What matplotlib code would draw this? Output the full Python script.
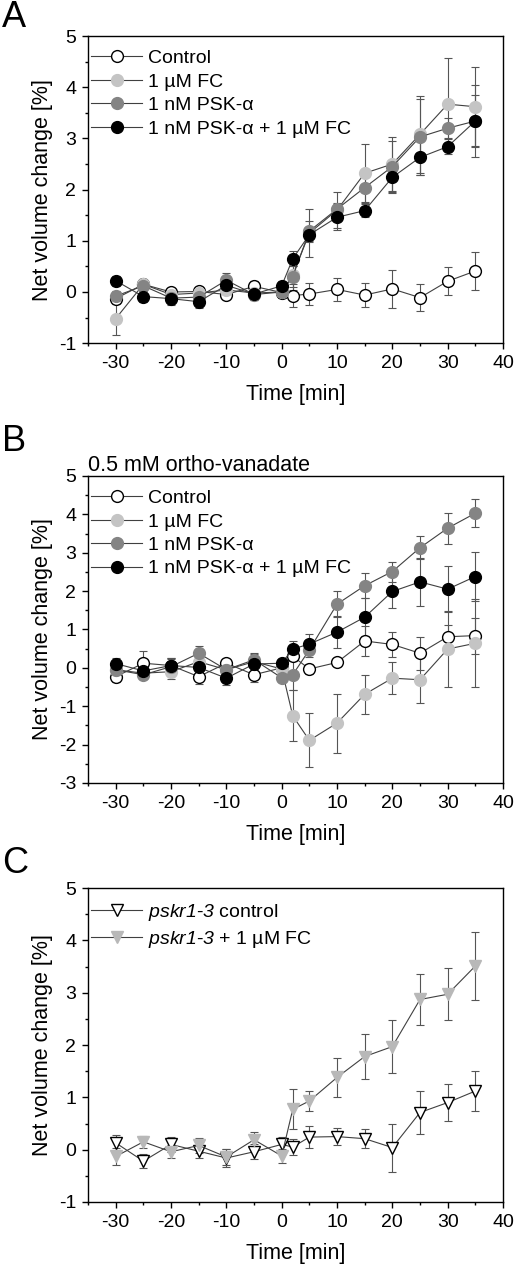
import numpy as np
import matplotlib
matplotlib.use("Agg")
import matplotlib.pyplot as plt
from matplotlib.ticker import MultipleLocator

plt.rcParams['font.family'] = ['Liberation Sans', 'DejaVu Sans']
plt.rcParams['axes.unicode_minus'] = False
plt.rcParams['mathtext.fontset'] = 'custom'
plt.rcParams['mathtext.it'] = 'Liberation Sans:italic'
plt.rcParams['mathtext.rm'] = 'Liberation Sans:italic'

# time points (min)
time = [-30, -25, -20, -15, -10, -5, 0, 2, 5, 10, 15, 20, 25, 30, 35]

# --- panel A ---
a_ctrl = [-0.13, 0.15, 0.00, 0.01, -0.05, 0.11, -0.01, -0.07, -0.04, 0.05, -0.06, 0.06, -0.11, 0.21, 0.41]
a_ctrl_err = [0.10, 0.08, 0.08, 0.08, 0.06, 0.10, 0.10, 0.22, 0.21, 0.22, 0.23, 0.37, 0.27, 0.27, 0.37]
a_fc = [-0.52, 0.15, -0.05, -0.02, 0.04, -0.02, 0.00, 0.33, 1.15, 1.60, 2.32, 2.50, 3.08, 3.67, 3.62]
a_fc_err = [0.33, 0.10, 0.10, 0.10, 0.10, 0.10, 0.10, 0.30, 0.47, 0.35, 0.57, 0.53, 0.75, 0.91, 0.77]
a_psk = [-0.08, 0.12, -0.12, -0.10, 0.23, -0.05, 0.00, 0.30, 1.19, 1.62, 2.04, 2.45, 3.03, 3.20, 3.34]
a_psk_err = [0.10, 0.10, 0.10, 0.10, 0.15, 0.10, 0.10, 0.20, 0.20, 0.12, 0.30, 0.50, 0.75, 0.20, 0.70]
a_both = [0.22, -0.09, -0.13, -0.19, 0.13, -0.04, 0.12, 0.65, 1.12, 1.46, 1.59, 2.24, 2.63, 2.84, 3.34]
a_both_err = [0.10, 0.10, 0.12, 0.12, 0.10, 0.12, 0.10, 0.15, 0.15, 0.25, 0.12, 0.30, 0.35, 0.15, 0.50]

# --- panel B (0.5 mM ortho-vanadate) ---
b_ctrl = [-0.23, 0.12, 0.06, -0.23, 0.12, -0.18, 0.00, 0.30, -0.03, 0.14, 0.70, 0.61, 0.38, 0.81, 0.84]
b_ctrl_err = [0.15, 0.33, 0.20, 0.20, 0.12, 0.20, 0.12, 0.12, 0.12, 0.10, 0.38, 0.33, 0.43, 0.30, 0.47]
b_fc = [-0.05, -0.14, -0.10, 0.16, -0.05, 0.16, -0.03, -1.25, -1.89, -1.44, -0.69, -0.27, -0.31, 0.49, 0.64]
b_fc_err = [0.15, 0.12, 0.20, 0.20, 0.15, 0.20, 0.15, 0.67, 0.70, 0.77, 0.51, 0.41, 0.60, 1.00, 1.15]
b_psk = [-0.05, -0.18, 0.03, 0.38, -0.05, 0.21, -0.26, -0.18, 0.47, 1.66, 2.14, 2.51, 3.13, 3.64, 4.03]
b_psk_err = [0.12, 0.12, 0.20, 0.20, 0.15, 0.18, 0.12, 0.40, 0.20, 0.33, 0.32, 0.26, 0.30, 0.40, 0.37]
b_both = [0.11, -0.08, 0.06, 0.01, -0.27, 0.10, 0.12, 0.49, 0.62, 0.93, 1.32, 1.99, 2.24, 2.05, 2.38]
b_both_err = [0.15, 0.12, 0.20, 0.20, 0.18, 0.18, 0.12, 0.22, 0.27, 0.42, 0.50, 0.44, 0.62, 0.60, 0.63]

# --- panel C (pskr1-3) ---
c_ctrl = [0.13, -0.22, 0.10, -0.03, -0.16, -0.04, 0.10, 0.05, 0.24, 0.25, 0.21, 0.04, 0.71, 0.90, 1.12]
c_ctrl_err = [0.15, 0.14, 0.14, 0.12, 0.18, 0.14, 0.15, 0.15, 0.21, 0.17, 0.18, 0.46, 0.41, 0.36, 0.39]
c_fc = [-0.13, 0.15, -0.04, 0.08, -0.14, 0.19, -0.12, 0.77, 0.93, 1.38, 1.78, 1.97, 2.87, 2.97, 3.51]
c_fc_err = [0.17, 0.12, 0.12, 0.15, 0.15, 0.14, 0.14, 0.38, 0.20, 0.37, 0.43, 0.50, 0.48, 0.50, 0.65]

labels_ab = ['Control', '1 µM FC', '1 nM PSK-α', '1 nM PSK-α + 1 µM FC']
labels_c = ['$pskr1$-$3$ control', '$pskr1$-$3$ + 1 µM FC']

LIGHT = '#c4c4c4'
DARK = '#848484'
LINE = '#404040'
ERR = '#555555'


def style_axis(ax, ymin):
    ax.set_xlim(-35, 40)
    ax.set_ylim(ymin, 5)
    ax.xaxis.set_major_locator(MultipleLocator(10))
    ax.xaxis.set_minor_locator(MultipleLocator(5))
    ax.yaxis.set_major_locator(MultipleLocator(1))
    ax.yaxis.set_minor_locator(MultipleLocator(0.5))
    ax.tick_params(which='both', direction='out', top=False, right=False,
                   labelsize=14, width=1.0)
    ax.tick_params(which='major', length=4.5, pad=4)
    ax.tick_params(which='minor', length=2.5)
    for s in ax.spines.values():
        s.set_linewidth(1.0)
    ax.set_xlabel('Time [min]', fontsize=15.5, labelpad=9)
    ax.set_ylabel('Net volume change [%]', fontsize=15.5, labelpad=4)


def draw(ax, y, err, label, marker, face, edge, ecolor=ERR):
    ax.errorbar(time, y, yerr=err, fmt='none', ecolor=ecolor, elinewidth=0.8,
                capsize=2.8, capthick=0.8, zorder=2)
    ax.plot(time, y, color=LINE, lw=0.8, marker=marker, ms=8.5,
            mfc=face, mec=edge, mew=1.0, label=label, zorder=3)


fig = plt.figure(figsize=(5.18, 12.71), dpi=100)

axA = fig.add_axes([0.170, 0.730, 0.801, 0.2416])
draw(axA, a_ctrl, a_ctrl_err, labels_ab[0], 'o', 'white', 'black')
draw(axA, a_fc, a_fc_err, labels_ab[1], 'o', LIGHT, LIGHT)
draw(axA, a_psk, a_psk_err, labels_ab[2], 'o', DARK, DARK)
draw(axA, a_both, a_both_err, labels_ab[3], 'o', 'black', 'black')
style_axis(axA, -1)

axB = fig.add_axes([0.170, 0.384, 0.801, 0.2415])
draw(axB, b_ctrl, b_ctrl_err, labels_ab[0], 'o', 'white', 'black')
draw(axB, b_fc, b_fc_err, labels_ab[1], 'o', LIGHT, LIGHT)
draw(axB, b_psk, b_psk_err, labels_ab[2], 'o', DARK, DARK)
draw(axB, b_both, b_both_err, labels_ab[3], 'o', 'black', 'black')
style_axis(axB, -3)
axB.set_title('0.5 mM ortho-vanadate', loc='left', fontsize=15.5, pad=3)

axC = fig.add_axes([0.170, 0.0543, 0.801, 0.247])
draw(axC, c_ctrl, c_ctrl_err, labels_c[0], 'v', 'white', 'black')
draw(axC, c_fc, c_fc_err, labels_c[1], 'v', '#b8b8b8', '#b8b8b8')
style_axis(axC, -1)

for ax in (axA, axB, axC):
    ax.legend(loc='upper left', bbox_to_anchor=(0.008, 0.956), frameon=False,
              fontsize=14, handlelength=2.6, handletextpad=0.3,
              labelspacing=0.3, borderaxespad=0.0, borderpad=0.0)

fig.text(0.004, 0.986, 'A', fontsize=26, va='center', ha='left')
fig.text(0.004, 0.653, 'B', fontsize=26, va='center', ha='left')
fig.text(0.004, 0.321, 'C', fontsize=26, va='center', ha='left')

fig.savefig('out.png', dpi=100)
